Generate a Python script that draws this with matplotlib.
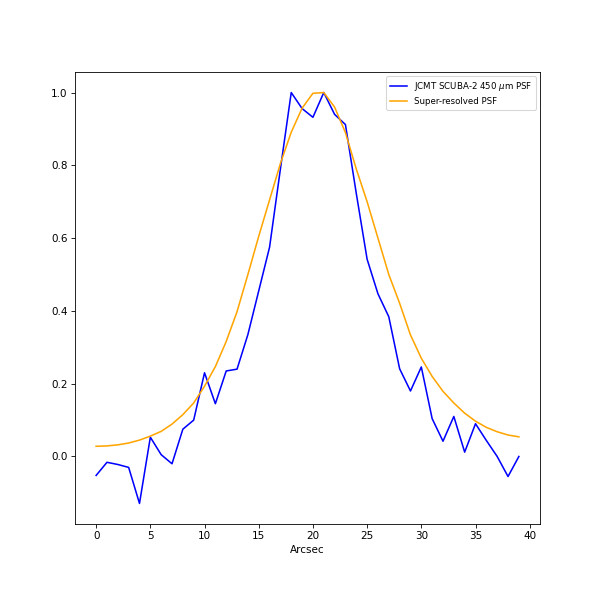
import matplotlib
matplotlib.use("Agg")
import matplotlib.pyplot as plt

x = list(range(40))
jcmt_psf = [-0.052, -0.016, -0.022, -0.030, -0.129, 0.053, 0.005, -0.020, 0.075, 0.100,
            0.230, 0.145, 0.235, 0.240, 0.335, 0.455, 0.575, 0.790, 1.000, 0.956,
            0.932, 1.000, 0.940, 0.912, 0.723, 0.542, 0.447, 0.384, 0.241, 0.180,
            0.246, 0.104, 0.042, 0.110, 0.012, 0.090, 0.044, 0.000, -0.055, 0.000]
super_psf = [0.028, 0.029, 0.032, 0.037, 0.045, 0.056, 0.069, 0.089, 0.115, 0.147,
             0.193, 0.247, 0.316, 0.398, 0.500, 0.605, 0.705, 0.805, 0.891, 0.957,
             0.998, 1.000, 0.960, 0.890, 0.790, 0.700, 0.600, 0.500, 0.421, 0.334,
             0.270, 0.220, 0.179, 0.147, 0.119, 0.097, 0.080, 0.068, 0.059, 0.054]
labels = ["JCMT SCUBA-2 450 $\\mu$m PSF", "Super-resolved PSF"]

fig = plt.figure(figsize=(8, 8), dpi=75)
ax = fig.add_axes([0.125, 0.1267, 0.775, 0.7533])
ax.plot(x, jcmt_psf, color="blue", label=labels[0])
ax.plot(x, super_psf, color="orange", label=labels[1])
ax.set_xlabel("Arcsec")
ax.legend(loc="upper right", fontsize="small")
fig.savefig("out.png", dpi=75)
